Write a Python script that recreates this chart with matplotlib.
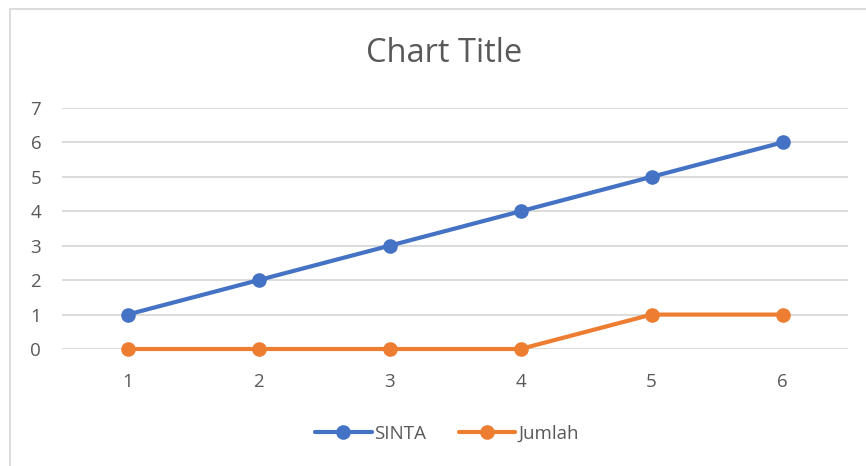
import matplotlib
matplotlib.use('Agg')
import matplotlib.pyplot as plt
from matplotlib.patches import Rectangle

# Data
categories = [1, 2, 3, 4, 5, 6]
sinta = [1, 2, 3, 4, 5, 6]
jumlah = [0, 0, 0, 0, 1, 1]
y_ticks = [0, 1, 2, 3, 4, 5, 6, 7]

blue = '#4472C4'
orange = '#ED7D31'
text_grey = '#595959'
grid_grey = '#D9D9D9'

plt.rcParams['font.family'] = ['Open Sans', 'DejaVu Sans']

W, H = 866, 466
fig = plt.figure(figsize=(W / 100, H / 100), dpi=100)

# outer chart border (runs off the right and bottom edges)
fig.patches.append(Rectangle((10 / W, -0.05), 2, 1 - 9 / H + 0.05, transform=fig.transFigure,
                             fill=False, edgecolor=grid_grey, linewidth=1.3))

left, right = 62 / W, 848 / W
bottom, top = 1 - 349 / H, 1 - 108 / H
ax = fig.add_axes([left, bottom, right - left, top - bottom])

x = list(range(len(categories)))
ax.plot(x, sinta, color=blue, linewidth=3, marker='o', markersize=9.5, label='SINTA',
        solid_capstyle='round', zorder=3)
ax.plot(x, jumlah, color=orange, linewidth=3, marker='o', markersize=9.5, label='Jumlah',
        solid_capstyle='round', zorder=3)

ax.set_xlim(-0.5, len(categories) - 0.5)
ax.set_ylim(0, 7)
ax.set_yticks(y_ticks)
ax.set_xticks(x)
ax.set_xticklabels([str(c) for c in categories])
ax.grid(axis='y', color=grid_grey, linewidth=1.3)
ax.set_axisbelow(True)
for s in ax.spines.values():
    s.set_visible(False)
ax.tick_params(length=0, colors=text_grey, labelsize=13.5)
ax.tick_params(axis='y', pad=15)
ax.tick_params(axis='x', pad=17)
for line in ax.lines:
    line.set_clip_on(False)

fig.text(444 / W, 1 - 53 / H, 'Chart Title', ha='center', va='center', fontsize=23.5, color=text_grey)

fig.legend(loc='center', bbox_to_anchor=(447 / W, 1 - 434 / H), ncol=2, frameon=False,
           fontsize=13.5, labelcolor=text_grey, handlelength=3.0, handletextpad=0.15,
           columnspacing=1.75)

fig.savefig('out.png', dpi=100)
